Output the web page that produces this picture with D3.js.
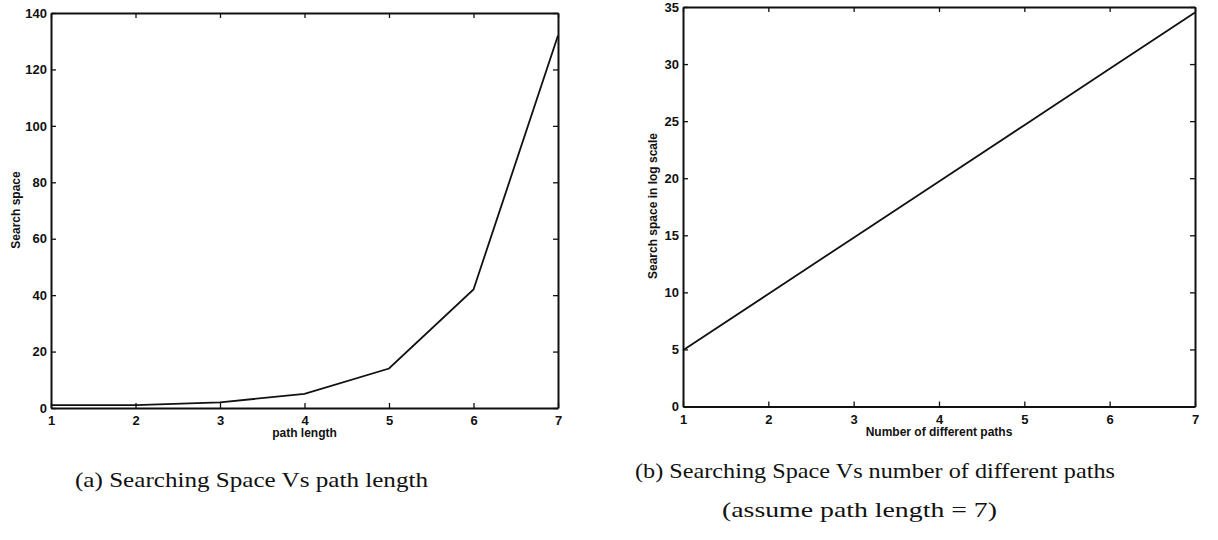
<!DOCTYPE html>
<html>
<head>
<meta charset="utf-8">
<script src="https://cdn.jsdelivr.net/npm/d3@7"></script>
<style>
  html, body { margin: 0; padding: 0; background: #fff; }
  svg { display: block; }
  .tick text { font-family: "Liberation Sans", Arial, sans-serif; font-size: 13px; font-weight: bold; fill: #111; }
  .axis path, .axis line { stroke: #111; }
  .axlabel { font-family: "Liberation Sans", Arial, sans-serif; font-size: 12px; font-weight: bold; fill: #111; }
  .caption { font-family: "Liberation Serif", "Times New Roman", serif; font-size: 21px; fill: #111; }
</style>
</head>
<body>
<svg id="chart" width="1218" height="540"></svg>
<script>
// Panel (a): search space against path length
const pathLengths = [1, 2, 3, 4, 5, 6, 7];
const searchSpace = [1, 1, 2, 5, 14, 42, 132];
const yTicksA = [0, 20, 40, 60, 80, 100, 120, 140];

// Panel (b): search space (log scale) against number of different paths
const numPaths = [1, 2, 3, 4, 5, 6, 7];
const logSearchSpace = [4.93, 9.86, 14.79, 19.72, 24.65, 29.58, 34.51];
const yTicksB = [0, 5, 10, 15, 20, 25, 30, 35];

const xTicks = [1, 2, 3, 4, 5, 6, 7];

const svg = d3.select("#chart");

function panel(cfg) {
  const x = d3.scaleLinear().domain([1, 7]).range([cfg.left, cfg.right]);
  const y = d3.scaleLinear().domain(cfg.yDomain).range([cfg.bottom, cfg.top]);
  const g = svg.append("g");
  const tk = 5;

  // Bottom axis with labels, ticks pointing inward
  g.append("g").attr("class", "axis")
    .attr("transform", `translate(0,${cfg.bottom})`)
    .call(d3.axisBottom(x).tickValues(xTicks).tickSizeInner(-tk).tickSizeOuter(0).tickPadding(8).tickFormat(d3.format("d")));
  // Top mirror axis
  g.append("g").attr("class", "axis")
    .attr("transform", `translate(0,${cfg.top})`)
    .call(d3.axisTop(x).tickValues(xTicks).tickSizeInner(-tk).tickSizeOuter(0).tickFormat(""));
  // Left axis with labels
  g.append("g").attr("class", "axis")
    .attr("transform", `translate(${cfg.left},0)`)
    .call(d3.axisLeft(y).tickValues(cfg.yTicks).tickSizeInner(-tk).tickSizeOuter(0).tickPadding(4).tickFormat(d3.format("d")));
  // Right mirror axis
  g.append("g").attr("class", "axis")
    .attr("transform", `translate(${cfg.right},0)`)
    .call(d3.axisRight(y).tickValues(cfg.yTicks).tickSizeInner(-tk).tickSizeOuter(0).tickFormat(""));

  g.selectAll(".axis path").attr("stroke-width", 2);
  g.selectAll(".axis line").attr("stroke-width", 1.3);

  // Data line
  const line = d3.line().x(d => x(d[0])).y(d => y(d[1]));
  g.append("path")
    .datum(cfg.xs.map((v, i) => [v, cfg.ys[i]]))
    .attr("d", line)
    .attr("fill", "none")
    .attr("stroke", "#111")
    .attr("stroke-width", 1.8)
    .attr("stroke-linejoin", "miter");

  // Axis titles
  g.append("text").attr("class", "axlabel")
    .attr("x", (cfg.left + cfg.right) / 2).attr("y", cfg.bottom + 29)
    .attr("text-anchor", "middle").text(cfg.xLabel);
  g.append("text").attr("class", "axlabel")
    .attr("transform", `translate(${cfg.yLabelX},${cfg.yLabelY}) rotate(-90)`)
    .attr("text-anchor", "middle").text(cfg.yLabel);
}

panel({
  left: 51, right: 558, top: 13, bottom: 408,
  yDomain: [0, 140], yTicks: yTicksA,
  xs: pathLengths, ys: searchSpace,
  xLabel: "path length", yLabel: "Search space",
  yLabelX: 20, yLabelY: 210
});

panel({
  left: 683, right: 1195, top: 7, bottom: 406.5,
  yDomain: [0, 35], yTicks: yTicksB,
  xs: numPaths, ys: logSearchSpace,
  xLabel: "Number of different paths", yLabel: "Search space in log scale",
  yLabelX: 657, yLabelY: 206
});

// Captions
svg.append("text").attr("class", "caption")
  .attr("x", 75).attr("y", 487)
  .attr("textLength", 353).attr("lengthAdjust", "spacingAndGlyphs")
  .text("(a) Searching Space Vs path length");
svg.append("text").attr("class", "caption")
  .attr("x", 635).attr("y", 478)
  .attr("textLength", 480).attr("lengthAdjust", "spacingAndGlyphs")
  .text("(b) Searching Space Vs number of different paths");
svg.append("text").attr("class", "caption")
  .attr("x", 722).attr("y", 517)
  .attr("textLength", 275).attr("lengthAdjust", "spacingAndGlyphs")
  .text("(assume path length = 7)");
</script>
</body>
</html>
